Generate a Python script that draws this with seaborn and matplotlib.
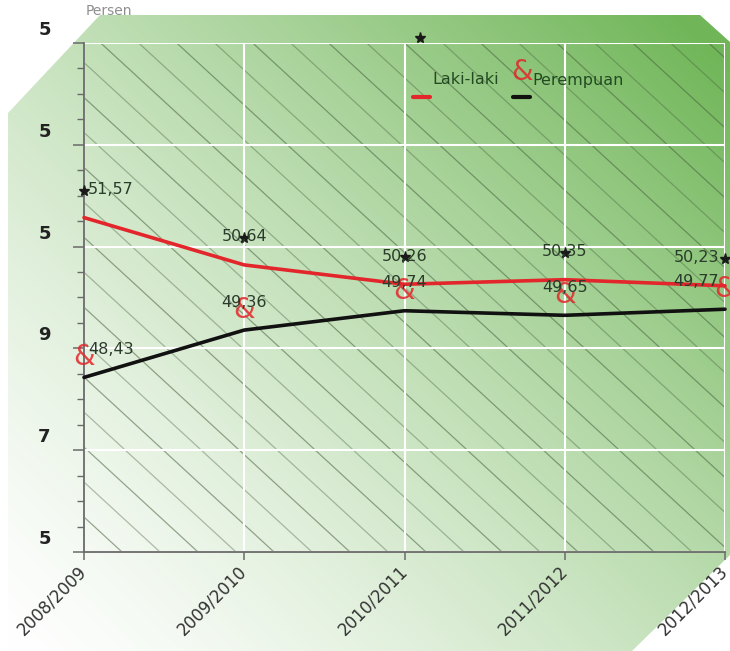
import numpy as np
import pandas as pd
import matplotlib
matplotlib.use("Agg")
import matplotlib.pyplot as plt
import seaborn as sns
from matplotlib.transforms import offset_copy, ScaledTranslation
from matplotlib.patches import Polygon
from matplotlib.lines import Line2D
from matplotlib.ticker import MultipleLocator

# ---- data -------------------------------------------------------------
years = ["2008/2009", "2009/2010", "2010/2011", "2011/2012", "2012/2013"]
laki = [51.57, 50.64, 50.26, 50.35, 50.23]
perempuan = [48.43, 49.36, 49.74, 49.65, 49.77]
y_ticks = [45, 47, 49, 51, 53, 55]
y_tick_labels = ["5", "7", "9", "5", "5", "5"]

RED = "#e3262b"
BLACK = "#111111"
TXT = "#2b3b2b"

sns.set_theme(style="ticks")
plt.rcParams["font.family"] = ["DejaVu Sans"]

W, H = 730, 651
fig = plt.figure(figsize=(W / 100, H / 100), dpi=100)

# ---- gradient backdrop with clipped corners ---------------------------
bg = fig.add_axes([0, 0, 1, 1], zorder=0)
bg.set_xlim(0, W)
bg.set_ylim(H, 0)
bg.axis("off")
yy, xx = np.mgrid[0:H, 0:W]
t = np.clip(0.55 * xx / W + 0.5 * (1 - yy / H), 0, 1) ** 1.35
green = np.array([112, 182, 88]) / 255.0
rgb = 1 - t[..., None] * (1 - green)
im = bg.imshow(rgb, extent=(0, W, H, 0), origin="upper", aspect="auto")
shape = Polygon([(8, 113), (100, 15), (700, 15), (730, 42), (730, 555),
                 (632, 651), (8, 651)], closed=True, transform=bg.transData,
                fc="none", ec="none")
bg.add_patch(shape)
im.set_clip_path(shape)

# ---- main axes --------------------------------------------------------
left, right, top, bottom = 84, 725, 43, 552
ax = fig.add_axes([left / W, 1 - bottom / H, (right - left) / W, (bottom - top) / H],
                  zorder=1)
ax.patch.set_alpha(0)

# diagonal hatching across the plotting area
aw, ah = right - left, bottom - top
slope = 0.92
for k, c in enumerate(np.arange(-ah / slope, aw, 38)):
    xs = np.array([0, aw])
    ys = slope * (xs - c)
    ax.plot(xs / aw, 1 - ys / ah, transform=ax.transAxes, color="#48613f",
            lw=0.9, alpha=0.55 if k % 2 else 0.4, zorder=0.6)

df = pd.DataFrame({
    "x": list(range(len(years))) * 2,
    "nilai": laki + perempuan,
    "kelompok": ["Laki-laki"] * len(years) + ["Perempuan"] * len(years),
})
sns.lineplot(data=df, x="x", y="nilai", hue="kelompok", sort=False,
             palette={"Laki-laki": RED, "Perempuan": BLACK}, lw=2.6,
             legend=False, ax=ax, zorder=3, clip_on=False)

ax.set_xlim(0, len(years) - 1)
ax.set_ylim(45, 55)
ax.set_xlabel("")
ax.set_ylabel("")

ax.grid(True, which="major", color="white", lw=1.5)
ax.set_axisbelow("line")
for s in ("top", "right"):
    ax.spines[s].set_visible(False)
for s in ("left", "bottom"):
    ax.spines[s].set_color("#6a6a6a")
    ax.spines[s].set_linewidth(1.3)

ax.set_xticks(range(len(years)))
ax.set_xticklabels(years, rotation=45, ha="right", va="center", rotation_mode="anchor",
                   fontsize=12, color="#333333")
ax.set_yticks(y_ticks)
ax.set_yticklabels(y_tick_labels, fontsize=13, fontweight="bold", color="#222222")
ax.yaxis.set_minor_locator(MultipleLocator(0.5))
ax.tick_params(axis="x", direction="out", length=6, width=1.1, color="#6a6a6a", pad=6)
ax.tick_params(axis="y", which="major", direction="out", length=8, width=1.1,
               color="#6a6a6a", pad=16)
ax.tick_params(axis="y", which="minor", direction="out", length=5, width=1,
               color="#6a6a6a")
for lab in ax.get_yticklabels():
    lab.set_transform(lab.get_transform() + ScaledTranslation(0, 0.15, fig.dpi_scale_trans))

# ---- point markers and value labels -----------------------------------
star_tr = offset_copy(ax.transData, fig=fig, x=0, y=27, units="dots")
amp_tr = offset_copy(ax.transData, fig=fig, x=0, y=20, units="dots")
ax.plot(range(len(years)), laki, ls="none", marker="*", ms=8, color="k",
        transform=star_tr, clip_on=False, zorder=5)
for i, v in enumerate(perempuan):
    ax.text(i, v, "&", transform=amp_tr, ha="center", va="center", fontsize=20,
            color=RED, alpha=0.85, clip_on=False, zorder=5)

n = len(years)
for series in (laki, perempuan):
    for i, v in enumerate(series):
        if i == 0:
            ha, dx = "left", 4
        elif i == n - 1:
            ha, dx = "right", -6
        else:
            ha, dx = "center", 0
        ax.annotate(f"{v:.2f}".replace(".", ","), (i, v), xytext=(dx / 1.389, 28 / 1.389),
                    textcoords="offset points", ha=ha, va="center", fontsize=11.5,
                    color=TXT, zorder=6, annotation_clip=False)

# ---- legend -----------------------------------------------------------
def fx(px):
    return px / W


def fy(py):
    return 1 - py / H


fig.add_artist(Line2D([fx(420)], [fy(38)], marker="*", ms=8, color="k",
                      transform=fig.transFigure))
fig.add_artist(Line2D([fx(413), fx(430)], [fy(97), fy(97)], color=RED, lw=3,
                      transform=fig.transFigure))
fig.text(fx(432), fy(80), "Laki-laki", ha="left", va="center", fontsize=11.5, color="#234a23")
fig.text(fx(522), fy(72), "&", ha="center", va="center", fontsize=20, color=RED, alpha=0.85)
fig.add_artist(Line2D([fx(513), fx(530)], [fy(97), fy(97)], color=BLACK, lw=3,
                      transform=fig.transFigure))
fig.text(fx(532), fy(80), "Perempuan", ha="left", va="center", fontsize=11.5, color="#234a23")

fig.text(fx(86), fy(15), "Persen", ha="left", va="baseline", fontsize=10,
         color="#444444", alpha=0.6)

fig.savefig("out.png", dpi=100)
